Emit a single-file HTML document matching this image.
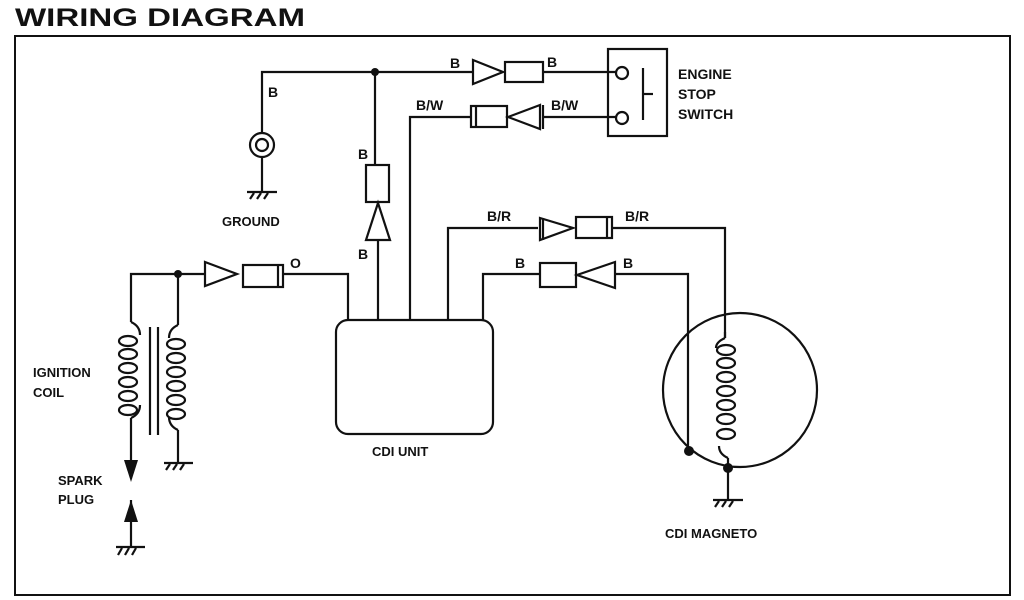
<!DOCTYPE html>
<html><head><meta charset="utf-8"><style>
html,body{margin:0;padding:0;background:#fff;}
svg{display:block;}
text{font-family:"Liberation Sans",sans-serif;font-weight:bold;fill:#111;}
</style></head><body>
<svg width="1024" height="600" viewBox="0 0 1024 600" xmlns="http://www.w3.org/2000/svg">
<text x="15" y="26" font-size="25" textLength="290" lengthAdjust="spacingAndGlyphs">WIRING DIAGRAM</text>
<rect x="15" y="36" width="995" height="559" fill="none" stroke="#111" stroke-width="2"/>
<g fill="none" stroke="#111" stroke-width="2.2">
<!-- top B line -->
<polyline points="262,133 262,72 473,72"/>
<line x1="543" y1="72" x2="616" y2="72"/>
<polygon points="473,60 503,72 473,84"/>
<rect x="505" y="62" width="38" height="20"/>
<!-- ground -->
<circle cx="262" cy="145" r="12"/><circle cx="262" cy="145" r="6"/>
<line x1="262" y1="157" x2="262" y2="192"/>
<line x1="247" y1="192" x2="277" y2="192"/>
<line x1="250" y1="199" x2="254" y2="193"/><line x1="257" y1="199" x2="261" y2="193"/><line x1="264" y1="199" x2="268" y2="193"/>
<!-- switch -->
<rect x="608" y="49" width="59" height="87"/>
<circle cx="622" cy="73" r="6"/><circle cx="622" cy="118" r="6"/>
<line x1="643" y1="68" x2="643" y2="120"/><line x1="643" y1="94" x2="653" y2="94"/>
<!-- B/W -->
<polyline points="410,320 410,117 471,117"/>
<rect x="471" y="106" width="36" height="21"/><line x1="476" y1="106" x2="476" y2="127"/>
<polygon points="540,105 508,117 540,129"/><line x1="543" y1="105" x2="543" y2="129"/>
<line x1="543" y1="117" x2="616" y2="117"/>
<!-- vertical B -->
<line x1="375" y1="72" x2="375" y2="165"/>
<rect x="366" y="165" width="23" height="37"/>
<polygon points="378,203 366,240 390,240"/>
<line x1="378" y1="240" x2="378" y2="320"/>
<!-- B/R -->
<polyline points="448,320 448,228 538,228"/>
<polygon points="540,218 573,228 540,240"/><line x1="543" y1="218" x2="543" y2="240"/>
<rect x="576" y="217" width="36" height="21"/><line x1="607" y1="217" x2="607" y2="238"/>
<polyline points="612,228 725,228 725,338"/>
<!-- B lower -->
<polyline points="483,320 483,274 540,274"/>
<rect x="540" y="263" width="36" height="24"/>
<polygon points="615,262 577,275 615,288"/>
<polyline points="615,274 688,274 688,451"/>
<!-- O -->
<polyline points="131,322 131,274 205,274"/>
<polygon points="205,262 237,274 205,286"/>
<rect x="243" y="265" width="40" height="22"/><line x1="278" y1="265" x2="278" y2="287"/>
<polyline points="283,274 348,274 348,320"/>
<line x1="178" y1="274" x2="178" y2="325"/>
<!-- CDI unit -->
<rect x="336" y="320" width="157" height="114" rx="12"/>
<!-- ignition coils -->
<path d="M131,322 q9,4 9,13 M131,418 q9,-4 9,-13 M131,418 L131,470"/>
<ellipse cx="128" cy="341" rx="9" ry="5"/><ellipse cx="128" cy="354" rx="9" ry="5"/><ellipse cx="128" cy="368" rx="9" ry="5"/><ellipse cx="128" cy="382" rx="9" ry="5"/><ellipse cx="128" cy="396" rx="9" ry="5"/><ellipse cx="128" cy="410" rx="9" ry="5"/>
<line x1="150" y1="327" x2="150" y2="435"/><line x1="158" y1="327" x2="158" y2="435"/>
<path d="M178,325 q-9,4 -9,13 M178,430 q-9,-4 -9,-13 M178,430 L178,463"/>
<ellipse cx="176" cy="344" rx="9" ry="5"/><ellipse cx="176" cy="358" rx="9" ry="5"/><ellipse cx="176" cy="372" rx="9" ry="5"/><ellipse cx="176" cy="386" rx="9" ry="5"/><ellipse cx="176" cy="400" rx="9" ry="5"/><ellipse cx="176" cy="414" rx="9" ry="5"/>
<line x1="164" y1="463" x2="193" y2="463"/>
<line x1="166" y1="470" x2="170" y2="464"/><line x1="173" y1="470" x2="177" y2="464"/><line x1="180" y1="470" x2="184" y2="464"/>
<!-- spark plug -->
<line x1="131" y1="500" x2="131" y2="547"/>
<line x1="116" y1="547" x2="145" y2="547"/>
<line x1="118" y1="555" x2="122" y2="548"/><line x1="125" y1="555" x2="129" y2="548"/><line x1="132" y1="555" x2="136" y2="548"/>
<!-- magneto -->
<circle cx="740" cy="390" r="77"/>
<path d="M725,338 L725,332 M725,338 q-9,4 -9,10 M728,458 q-9,-4 -9,-12 M728,458 L728,500"/>
<ellipse cx="726" cy="350" rx="9" ry="5"/><ellipse cx="726" cy="363" rx="9" ry="5"/><ellipse cx="726" cy="377" rx="9" ry="5"/><ellipse cx="726" cy="391" rx="9" ry="5"/><ellipse cx="726" cy="405" rx="9" ry="5"/><ellipse cx="726" cy="419" rx="9" ry="5"/><ellipse cx="726" cy="434" rx="9" ry="5"/>
<line x1="713" y1="500" x2="743" y2="500"/>
<line x1="715" y1="507" x2="719" y2="501"/><line x1="722" y1="507" x2="726" y2="501"/><line x1="729" y1="507" x2="733" y2="501"/>
</g>
<g fill="#111">
<circle cx="375" cy="72" r="4"/><circle cx="178" cy="274" r="4"/>
<circle cx="689" cy="451" r="5"/><circle cx="728" cy="468" r="5"/>
<polygon points="124,460 138,460 131,482"/>
<polygon points="124,522 138,522 131,500"/>
</g>
<g font-size="14">
<text x="268" y="97">B</text>
<text x="450" y="68">B</text>
<text x="547" y="67">B</text>
<text x="416" y="110">B/W</text>
<text x="551" y="110">B/W</text>
<text x="358" y="159">B</text>
<text x="358" y="259">B</text>
<text x="487" y="221">B/R</text>
<text x="625" y="221">B/R</text>
<text x="515" y="268">B</text>
<text x="623" y="268">B</text>
<text x="290" y="268">O</text>
<text x="678" y="79">ENGINE</text>
<text x="678" y="99">STOP</text>
<text x="678" y="119">SWITCH</text>
</g>
<g font-size="13">
<text x="222" y="226">GROUND</text>
<text x="372" y="456">CDI UNIT</text>
<text x="33" y="377">IGNITION</text>
<text x="33" y="397">COIL</text>
<text x="58" y="485">SPARK</text>
<text x="58" y="504">PLUG</text>
<text x="665" y="538">CDI MAGNETO</text>
</g>
</svg>
</body></html>
